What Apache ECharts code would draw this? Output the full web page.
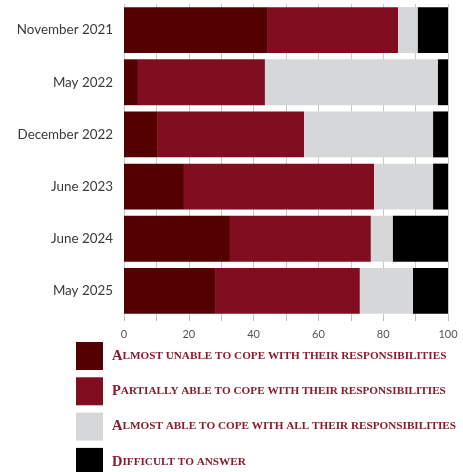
<!DOCTYPE html>
<html>
<head>
<meta charset="utf-8">
<script src="https://cdn.jsdelivr.net/npm/echarts@6/dist/echarts.min.js"></script>
<style>html,body{margin:0;padding:0;background:#fff;}#c{width:463px;height:472px;}</style>
</head>
<body>
<div id="c"></div>
<script>
var categories = ['November 2021', 'May 2022', 'December 2022', 'June 2023', 'June 2024', 'May 2025'];
var seriesNames = [
  'Almost unable to cope with their responsibilities',
  'Partially able to cope with their responsibilities',
  'Almost able to cope with all their responsibilities',
  'Difficult to answer'
];
var almostUnable = [44.4, 4.3, 10.2, 18.5, 32.7, 28.1];
var partiallyAble = [40.2, 39.2, 45.4, 58.7, 43.5, 44.7];
var almostAble = [6.1, 53.4, 39.8, 18.2, 6.8, 16.4];
var difficult = [9.3, 3.1, 4.6, 4.6, 17.0, 10.8];
var seriesColors = ['#540000', '#800d20', '#d6d7d9', '#000000'];

var seriesData = [almostUnable, partiallyAble, almostAble, difficult];

function smallCaps(name) {
  var words = name.split(' ');
  return words.map(function (w, i) {
    var first = w.charAt(0);
    var rest = w.slice(1).toUpperCase();
    var out = '';
    if (i === 0) {
      out += '{big|' + first.toUpperCase() + '}';
    } else {
      out += '{sm|' + first.toUpperCase() + '}';
    }
    if (rest) out += '{sm|' + rest + '}';
    return out;
  }).join('{sm| }');
}

var chart = echarts.init(document.getElementById('c'), null, {renderer: 'canvas'});
var option = {
  backgroundColor: '#ffffff',
  animation: false,
  grid: {left: 124, right: 15, top: 4, bottom: 155, containLabel: false},
  xAxis: {
    type: 'value',
    min: 0, max: 100, interval: 10,
    axisLine: {show: false},
    axisTick: {show: true, length: 4, lineStyle: {color: '#bbbbbb'}},
    splitLine: {show: true, lineStyle: {color: '#c8c8c8', width: 1}},
    axisLabel: {
      color: '#555555', fontSize: 11, margin: 12,
      fontFamily: 'Lato, "Noto Sans", sans-serif',
      formatter: function (v) { return v % 20 === 0 ? String(v) : ''; }
    }
  },
  yAxis: {
    type: 'category',
    data: categories,
    inverse: true,
    axisLine: {show: false},
    axisTick: {show: false},
    axisLabel: {
      color: '#3a3a3a', fontSize: 13.4, margin: 11,
      fontFamily: 'Lato, "Noto Sans", sans-serif'
    }
  },
  legend: {
    orient: 'vertical',
    left: 76, top: 342, height: 160,
    padding: 0,
    itemWidth: 27, itemHeight: 28, itemGap: 7.3,
    icon: 'rect',
    selectedMode: false,
    data: seriesNames,
    formatter: smallCaps,
    textStyle: {
      padding: [0, 0, 0, 4],
      rich: {
        big: {fontFamily: '"Liberation Serif", "DejaVu Serif", serif', fontWeight: 'bold', fontSize: 14.5, color: '#8a1a2c'},
        sm: {fontFamily: '"Liberation Serif", "DejaVu Serif", serif', fontWeight: 'bold', fontSize: 11.2, color: '#8a1a2c'}
      }
    }
  },
  series: seriesNames.map(function (name, i) {
    return {
      name: name,
      type: 'bar',
      stack: 'total',
      barCategoryGap: '12%',
      data: seriesData[i],
      itemStyle: {color: seriesColors[i]},
      emphasis: {disabled: true}
    };
  })
};
chart.setOption(option);
</script>
</body>
</html>
